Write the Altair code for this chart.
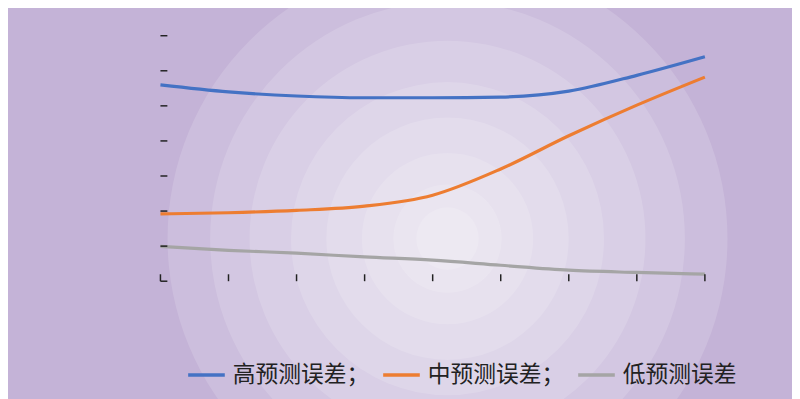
import altair as alt
import pandas as pd

penetration = [10, 15, 20, 25, 30, 35, 40, 45, 50]
high_err = [0.330, 0.320, 0.314, 0.3115, 0.3115, 0.3125, 0.321, 0.3435, 0.370]
mid_err = [0.146, 0.1476, 0.151, 0.157, 0.1726, 0.210, 0.2573, 0.301, 0.341]
low_err = [0.0996, 0.094, 0.090, 0.0846, 0.080, 0.0727, 0.0657, 0.0625, 0.060]
series_names = ["高预测误差；", "中预测误差；", "低预测误差"]
series_colors = ["#4472c4", "#ed7d31", "#a5a5a5"]
y_ticks = [0.05, 0.10, 0.15, 0.20, 0.25, 0.30, 0.35, 0.40]
x_ticks = [10, 15, 20, 25, 30, 35, 40, 45, 50]

rows = []
for name, vals in zip(series_names, [high_err, mid_err, low_err]):
    for xv, yv in zip(penetration, vals):
        rows.append({"x": xv, "y": yv, "s": name})
df = pd.DataFrame(rows)

W, H = 550, 248
PAD = {"left": 154, "top": 26, "right": 88, "bottom": 117}

xs = alt.Scale(domain=[10, 50], nice=False, zero=False)
ys = alt.Scale(domain=[0.05, 0.40], nice=False, zero=False)

# soft light glow behind the plot (stacked translucent discs)
glow_area = [320000, 230000, 160000, 100000, 60000, 30000, 12000, 4000]
glow = alt.Chart(pd.DataFrame({"a": glow_area})).mark_circle(
    color="#ffffff", opacity=0.15, stroke=None
).encode(
    x=alt.value(290), y=alt.value(205),
    size=alt.Size("a:Q", scale=None, legend=None),
)

lines = alt.Chart(df).mark_line(strokeWidth=3.2, interpolate="monotone").encode(
    x=alt.X("x:Q", scale=xs, axis=alt.Axis(
        values=x_ticks, format="d", title="渗透率/%", tickSize=0,
        labelPadding=8, titleX=295, titleY=51, titleBaseline="middle",
    )),
    y=alt.Y("y:Q", scale=ys, axis=alt.Axis(
        values=y_ticks, format=".2f", title="弃风率", tickSize=0,
        labelPadding=10, titleAngle=270, titleX=-75, titleY=124,
        titleBaseline="middle",
    )),
    color=alt.Color("s:N", scale=alt.Scale(domain=series_names, range=series_colors),
                    sort=series_names,
                    legend=alt.Legend(
                        title=None, orient="none", direction="horizontal",
                        legendX=26, legendY=322, symbolType="stroke",
                        symbolSize=1369, symbolStrokeWidth=3.5,
                        labelFontSize=23, labelFont="Noto Sans CJK SC",
                        labelColor="#222222", labelOffset=6, columnPadding=7,
                        labelLimit=300,
                    )),
)

ytick_df = pd.DataFrame({"y": y_ticks})
yticks = alt.Chart(ytick_df).mark_rule(color="#222222", strokeWidth=1.5).encode(
    y=alt.Y("y:Q", scale=ys, axis=None), x=alt.value(0), x2=alt.value(7)
)
xtick_df = pd.DataFrame({"x": x_ticks})
xticks = alt.Chart(xtick_df).mark_rule(color="#222222", strokeWidth=1.5).encode(
    x=alt.X("x:Q", scale=xs, axis=None), y=alt.value(H), y2=alt.value(H - 7)
)

chart = alt.layer(glow, lines, yticks, xticks).properties(
    width=W, height=H,
    autosize=alt.AutoSizeParams(type="none"),
    padding=PAD,
    background="#c4b3d7",
).configure_view(stroke=None).configure_axis(
    grid=False, domainColor="#222222", domainWidth=1.5, zindex=1,
    labelFont="Liberation Serif", labelFontSize=23, labelColor="#222222",
    titleFont="Noto Sans CJK SC", titleFontSize=21, titleColor="#222222",
    titleFontWeight="normal",
)

chart.save("out.html", embed_options={"renderer": "svg", "actions": False})
